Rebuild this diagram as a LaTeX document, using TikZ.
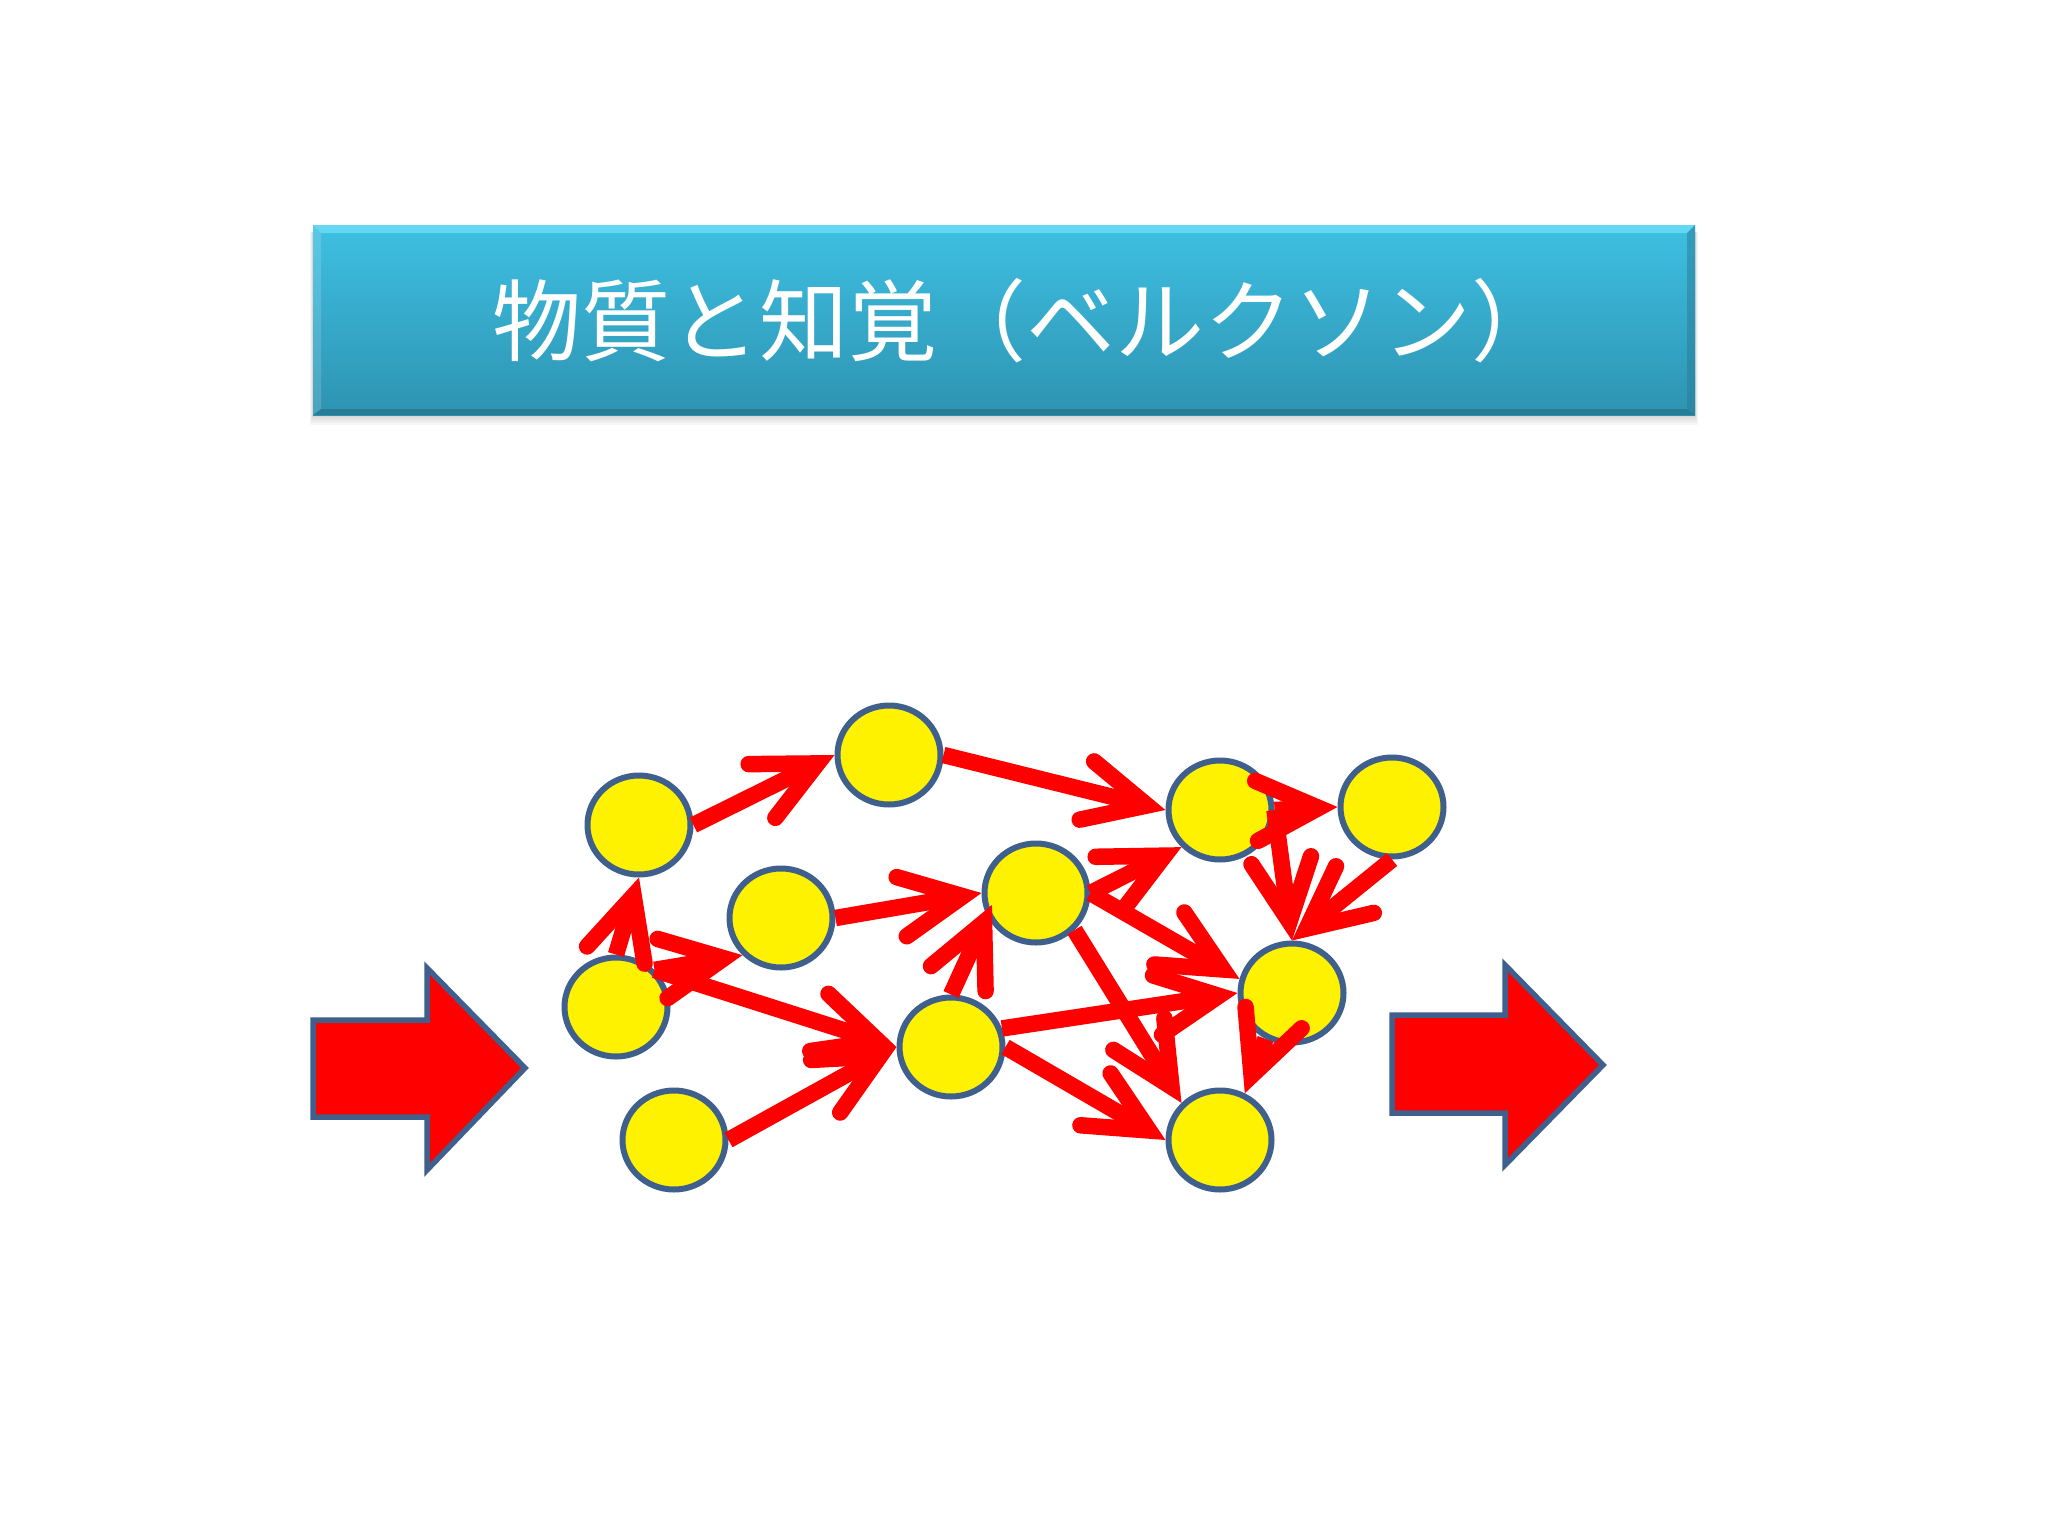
\documentclass[tikz,border=0pt]{standalone}
\usepackage{fontspec}
\usepackage{tikz}
\usetikzlibrary{arrows.meta,shapes.geometric}
\newfontfamily\jpfont{Noto Sans CJK JP}
\definecolor{rimblue}{RGB}{63,95,140}
\definecolor{titletop}{RGB}{62,192,226}
\definecolor{titlebot}{RGB}{46,147,178}
\definecolor{titlelight}{RGB}{100,216,242}
\definecolor{titledark}{RGB}{40,124,150}

\begin{document}
\begin{tikzpicture}[x=1pt, y=-1pt,
    dot/.style={ellipse, draw=rimblue, line width=6pt, fill=yellow,
      minimum width=103pt, minimum height=99pt, inner sep=0pt},
    link/.style={draw=red, line width=16.5pt,
      -{Straight Barb[length=62pt, width=60pt, line cap=round, line join=miter]}},
    bigarrow/.style={draw=rimblue, line width=5.5pt, fill=red, line join=miter}]
    \coordinate (lextr) at (0, 0);
    \coordinate (rextr) at (2048, 1536);
    \fill[white] (lextr) rectangle (rextr);
    \useasboundingbox (lextr) rectangle (rextr);

    % title bar
    \coordinate (tl) at (313, 225);
    \coordinate (br) at (1695, 415);
    \foreach \d in {2, 4, ..., 10} {
      \fill[black, opacity=0.03] (313-\d*0.3, 232) rectangle (1695+\d*0.3, 415+\d);
    }
    \shade[top color=titletop, bottom color=titlebot] (tl) rectangle (br);
    \fill[titlelight] (313, 225) -- (1695, 225) -- (1687, 233) -- (321, 233) -- cycle;
    \fill[titledark] (313, 415) -- (1695, 415) -- (1687, 409) -- (321, 409) -- cycle;
    \fill[white, opacity=0.15] (313, 225) -- (321, 233) -- (321, 409) -- (313, 415) -- cycle;
    \fill[titledark, opacity=0.5] (1695, 225) -- (1687, 233) -- (1687, 409) -- (1695, 415) -- cycle;
    \node[anchor=base, text=white, font=\jpfont\fontsize{89}{89}\selectfont]
      (title) at (1026, 354) {物質と知覚（ベルクソン）};

    % in and out
    \draw[bigarrow] (313, 1020) -- (427, 1020) -- (427, 968) -- (525, 1068)
      -- (427, 1170) -- (427, 1117) -- (313, 1117) -- cycle;
    \draw[bigarrow] (1392, 1015) -- (1505, 1015) -- (1505, 965) -- (1603, 1065)
      -- (1505, 1165) -- (1505, 1113) -- (1392, 1113) -- cycle;

    % the net
    \foreach \n/\px/\py in {A/639/825, B/889/755, C/1220/810, D/1392/807,
        E/781/918, F/1036/893, G/616/1007, H/1292/993, I/951/1047,
        J/674/1140, K/1220/1140} {
      \node[dot] (\n) at (\px, \py) {};
    }
    \foreach \from/\to in {A.east/B.west, B.east/C.west, C.east/D.west,
        C.east/H.north, D.south/H.north, F.east/C.south west, F.east/H.165,
        F.south east/K.north west, I.20/H.west, I.east/K.west, H.-120/K.62,
        G.north/A.south, G.north east/E.south west, G.north east/I.west,
        J.east/I.west, E.east/F.west} {
      \draw[link] (\from) -- (\to);
    }
    \draw[link, shorten >=-12pt] (I.north) -- (F.205);
\end{tikzpicture}
\end{document}
